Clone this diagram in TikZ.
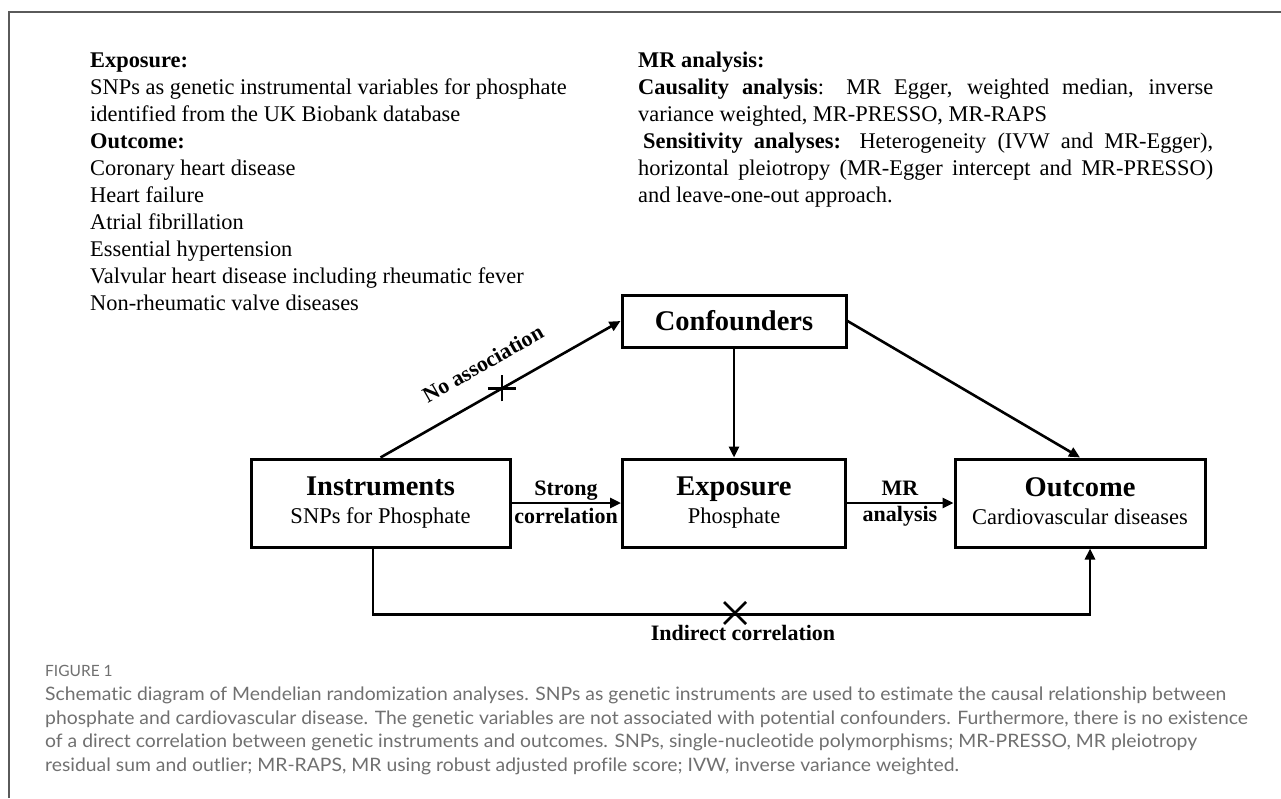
\documentclass[tikz,border=0pt]{standalone}
\usepackage{fontspec}
\usepackage{graphicx}
\setmainfont{Liberation Serif}
\newfontfamily\capfont[Ligatures=NoCommon]{Lato}
\usetikzlibrary{arrows.meta,calc}
\definecolor{capgray}{HTML}{707070}
\definecolor{framegray}{HTML}{5A5A5A}
\newlength\capw
\newcommand\ttl{\fontsize{28.5}{28}\selectfont\bfseries}
\newcommand\capsz{\capfont\fontsize{18.5}{24}\selectfont}
\begin{document}
\settowidth{\capw}{\capsz Schematic diagram of Mendelian randomization analyses. SNPs as genetic instruments are used to estimate the causal relationship between}%
\pgfmathsetmacro\capratio{1181/\capw}%
\begin{tikzpicture}[x=1pt,y=-1pt,
  box/.style={draw=black, line width=3pt, minimum height=88pt, align=center, inner sep=0pt, font=\fontsize{22.5}{28}\selectfont},
  conn/.style={line width=2.6pt, -{Triangle[length=11pt,width=10pt]}},
  plain/.style={line width=2.6pt},
  lbl/.style={font=\fontsize{22}{26}\selectfont\bfseries, inner sep=0pt},
  txt/.style={anchor=base west, inner sep=0pt, font=\fontsize{22.4}{27}\selectfont},
  captxt/.style={anchor=base west, inner sep=0pt, text=capgray, font=\capsz},
]
\useasboundingbox (0,0) rectangle (1281,798);
\fill[white] (0,0) rectangle (1281,798);
\draw[framegray, line width=1.2pt] (9,798) -- (9,12) -- (1281,12);

% left column
\node[txt] (l1) at (90,67) {\bfseries Exposure:};
\node[txt] (l2) at (90,94) {SNPs as genetic instrumental variables for phosphate};
\node[txt] (l3) at (90,121) {identified from the UK Biobank database};
\node[txt] (l4) at (90,148) {\bfseries Outcome:};
\node[txt] (l5) at (90,175) {Coronary heart disease};
\node[txt] (l6) at (90,202) {Heart failure};
\node[txt] (l7) at (90,229) {Atrial fibrillation};
\node[txt] (l8) at (90,256) {Essential hypertension};
\node[txt] (l9) at (90,283) {Valvular heart disease including rheumatic fever};
\node[txt] (l10) at (90,310) {Non-rheumatic valve diseases};

% right column
\node[txt] (r1) at (638,67) {\bfseries MR analysis:};
\node[txt] (r2) at (638,94) {\makebox[575pt][s]{\textbf{Causality analysis}: MR Egger, weighted median, inverse}};
\node[txt] (r3) at (638,121) {variance weighted, MR-PRESSO, MR-RAPS};
\node[txt] (r4) at (638,148) {\makebox[575pt][s]{\hspace*{5pt}\textbf{Sensitivity analyses:} Heterogeneity (IVW and MR-Egger),}};
\node[txt] (r5) at (638,175) {\makebox[575pt][s]{horizontal pleiotropy (MR-Egger intercept and MR-PRESSO)}};
\node[txt] (r6) at (638,202) {and leave-one-out approach.};

% boxes
\node[box, minimum width=224pt, minimum height=52pt, font=\ttl] (conf) at (734,321) {Confounders};
\node[box, minimum width=259pt] (inst) at (380.5,503) {{\ttl Instruments}\\SNPs for Phosphate\vphantom{p}};
\node[box, minimum width=223pt] (exp) at (734,503) {{\ttl Exposure}\\Phosphate\vphantom{p}};
\node[box, minimum width=250pt] (out) at (1080,503) {{\ttl Outcome}\\Cardiovascular diseases\vphantom{p}};

% connectors
\draw[conn] (inst.north) -- node[lbl, pos=0.49, sloped, above=22pt] (noassoc) {No association} (conf.west);
\coordinate (nx) at ($(inst.north)!0.506!(conf.west)$);
\draw[plain] ([yshift=-13pt]nx) -- ([yshift=13pt]nx);
\draw[plain] ([xshift=-14pt]nx) -- ([xshift=14pt]nx);

\draw[conn] (conf.south) -- (exp.north);
\draw[conn] (conf.east) -- (out.north);

\draw[conn] (inst.east) -- (exp.west);
\node[lbl, anchor=base] (strong) at (566,495) {Strong};
\node[lbl, anchor=base] (corr) at (566,523) {correlation};

\draw[conn] (exp.east) -- (out.west);
\node[lbl, anchor=base] (mr) at (900,495) {MR};
\node[lbl, anchor=base] (analysis) at (900,521) {analysis};

\draw[conn] ([xshift=-7.5pt]inst.south) -- ++(0,66) -| ([xshift=10pt]out.south);
\coordinate (ix) at (735,613);
\draw[plain] ([shift={(-11pt,-11pt)}]ix) -- ([shift={(11pt,11pt)}]ix);
\draw[plain] ([shift={(-11pt,11pt)}]ix) -- ([shift={(11pt,-11pt)}]ix);
\node[lbl, anchor=base] (indirect) at (743,640) {Indirect correlation};

% caption
\node[captxt, font=\capfont\fontsize{15.5}{18}\selectfont] (fig) at (45,676) {FIGURE 1};
\node[captxt] (c1) at (45,700) {\scalebox{\capratio}[1]{Schematic diagram of Mendelian randomization analyses. SNPs as genetic instruments are used to estimate the causal relationship between}};
\node[captxt] (c2) at (45,724) {\scalebox{\capratio}[1]{phosphate and cardiovascular disease. The genetic variables are not associated with potential confounders. Furthermore, there is no existence}};
\node[captxt] (c3) at (45,747.5) {\scalebox{\capratio}[1]{of a direct correlation between genetic instruments and outcomes. SNPs, single-nucleotide polymorphisms; MR-PRESSO, MR pleiotropy}};
\node[captxt] (c4) at (45,771) {\scalebox{\capratio}[1]{residual sum and outlier; MR-RAPS, MR using robust adjusted profile score; IVW, inverse variance weighted.}};
\end{tikzpicture}
\end{document}
